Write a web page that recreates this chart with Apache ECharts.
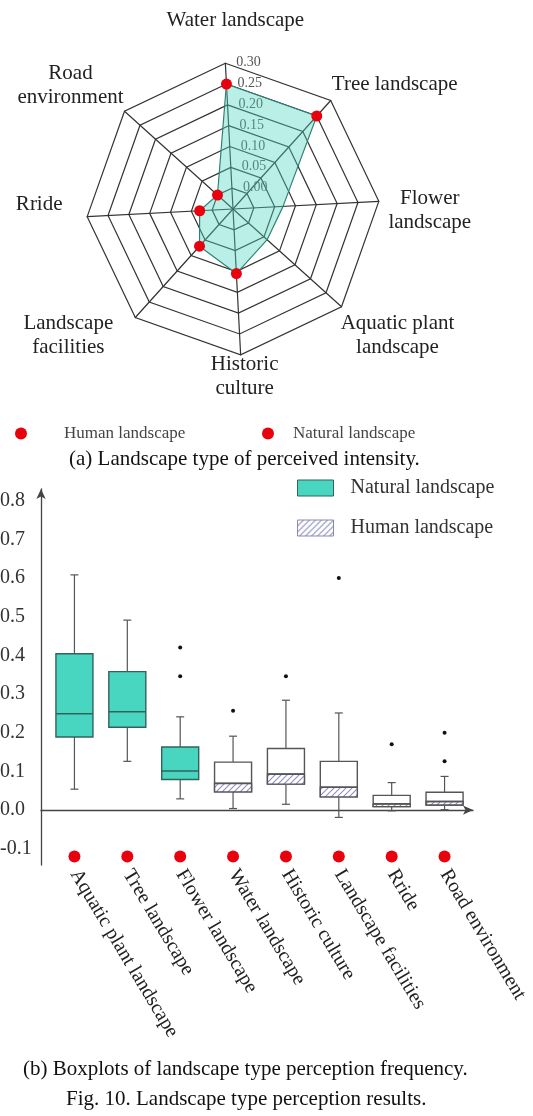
<!DOCTYPE html>
<html><head><meta charset="utf-8">
<script src="https://cdn.jsdelivr.net/npm/echarts@6/dist/echarts.min.js"></script>
<style>html,body{margin:0;padding:0;background:#fff}#c{width:533px;height:1116px}</style>
</head><body><div id="c"></div>
<script>
// ---------- (a) radar data ----------
const radarAxes = ['Water landscape','Road environment','Rride','Landscape facilities','Historic culture','Aquatic plant landscape','Flower landscape','Tree landscape'];
const radarAxisNames = ['Water landscape','Road\nenvironment','Rride','Landscape\nfacilities','Historic\nculture','Aquatic plant\nlandscape','Flower\nlandscape','Tree landscape'];
const radarValues = [0.25, 0.00, 0.03, 0.07, 0.105, 0.06, 0.07, 0.25];
const radarDotAxes = ['Water landscape','Road environment','Rride','Landscape facilities','Historic culture','Tree landscape'];
const radarDotValues = [0.25, 0.00, 0.03, 0.07, 0.105, 0.25];
const radarMin = -0.05, radarMax = 0.30;

// ---------- (b) boxplot data ----------
const boxCats = ['Aquatic plant landscape','Tree landscape','Flower landscape','Water landscape','Historic culture','Landscape facilities','Rride','Road environment'];
const boxGroup = ['Natural','Natural','Natural','Human','Human','Human','Human','Human'];
const boxMin    = [0.054, 0.126, 0.029, 0.004, 0.015, -0.019, -0.002, 0.001];
const boxQ1     = [0.189, 0.214, 0.079, 0.047, 0.067, 0.034, 0.009, 0.013];
const boxMedian = [0.249, 0.254, 0.101, 0.069, 0.093, 0.059, 0.016, 0.022];
const boxQ3     = [0.404, 0.358, 0.163, 0.124, 0.159, 0.126, 0.038, 0.046];
const boxMax    = [0.608, 0.491, 0.241, 0.191, 0.284, 0.251, 0.071, 0.087];
const outlierCats   = ['Flower landscape','Flower landscape','Water landscape','Historic culture','Landscape facilities','Rride','Road environment','Road environment'];
const outlierValues = [0.42, 0.346, 0.257, 0.346, 0.60, 0.17, 0.20, 0.126];
const markerValues  = [-0.12, -0.12, -0.12, -0.12, -0.12, -0.12, -0.12, -0.12];
const yTicks = [-0.1, 0.0, 0.1, 0.2, 0.3, 0.4, 0.5, 0.6, 0.7, 0.8];
const yMin = -0.142, yMax = 0.83;

// ---------- layout / style (not data) ----------
// pixel offset of each radar axis name from its axis end
const radarNameOffset = [[10,-43],[-54,-26],[-48,-12],[-67,18],[4,22],[56,29],[51,9],[64,-16]];
const FONT = 'Liberation Serif';
const TEAL = '#48d6c0';
const TEAL_BORDER = '#33625b';
const RED = '#e8000d';

function hatchPattern() {
  const c = document.createElement('canvas');
  c.width = 6; c.height = 6;
  const g = c.getContext('2d');
  g.fillStyle = '#fff'; g.fillRect(0, 0, 6, 6);
  g.strokeStyle = '#8e8ec2'; g.lineWidth = 1.1;
  g.beginPath();
  g.moveTo(0, 6); g.lineTo(6, 0);
  g.moveTo(-1, 1); g.lineTo(1, -1);
  g.moveTo(5, 7); g.lineTo(7, 5);
  g.stroke();
  return { image: c, repeat: 'repeat' };
}
const HATCH = hatchPattern();

// rich styles for radar axis names
const nameRich = {};
radarAxisNames.forEach((full, i) => {
  const lines = full.split('\n');
  const dx = radarNameOffset[i][0], dy = radarNameOffset[i][1];
  lines.forEach((l, j) => {
    const top = 1.5 + ((j === 0 && dy > 0) ? 2 * dy : 0);
    const bottom = 1.5 + ((j === lines.length - 1 && dy < 0) ? -2 * dy : 0);
    nameRich['n' + i + '_' + j] = {
      width: 160, align: 'center', fontSize: 21, fontFamily: FONT, color: '#222',
      padding: [top, dx < 0 ? -2 * dx : 0, bottom, dx > 0 ? 2 * dx : 0]
    };
  });
});

function boxData(group) {
  const out = [];
  boxCats.forEach((c, i) => {
    if (boxGroup[i] === group) out.push([c, boxMin[i], boxQ1[i], boxMedian[i], boxQ3[i], boxMax[i]]);
  });
  return out;
}

function makeRender(human) {
  return function (params, api) {
    const ci = api.value(0);
    const pMin = api.coord([ci, api.value(1)]);
    const pQ1 = api.coord([ci, api.value(2)]);
    const pMed = api.coord([ci, api.value(3)]);
    const pQ3 = api.coord([ci, api.value(4)]);
    const pMax = api.coord([ci, api.value(5)]);
    const w = api.size([1, 0])[0] * 0.7;
    const x = pMed[0];
    const cap = 4;
    const lineC = '#555';
    const border = human ? '#555' : TEAL_BORDER;
    const ch = [
      { type: 'line', shape: { x1: x, y1: pMax[1], x2: x, y2: pQ3[1] }, style: { stroke: lineC, lineWidth: 1.2 } },
      { type: 'line', shape: { x1: x - cap, y1: pMax[1], x2: x + cap, y2: pMax[1] }, style: { stroke: lineC, lineWidth: 1.2 } },
      { type: 'line', shape: { x1: x, y1: pQ1[1], x2: x, y2: pMin[1] }, style: { stroke: lineC, lineWidth: 1.2 } },
      { type: 'line', shape: { x1: x - cap, y1: pMin[1], x2: x + cap, y2: pMin[1] }, style: { stroke: lineC, lineWidth: 1.2 } },
      { type: 'rect', shape: { x: x - w / 2, y: pQ3[1], width: w, height: pQ1[1] - pQ3[1] },
        style: { fill: human ? '#fff' : TEAL, stroke: border, lineWidth: 1.4 } }
    ];
    if (human) {
      ch.push({ type: 'rect', shape: { x: x - w / 2, y: pMed[1], width: w, height: pQ1[1] - pMed[1] },
        style: { fill: HATCH, stroke: border, lineWidth: 1.4 } });
    }
    ch.push({ type: 'line', shape: { x1: x - w / 2, y1: pMed[1], x2: x + w / 2, y2: pMed[1] },
      style: { stroke: border, lineWidth: 1.6 } });
    return { type: 'group', children: ch };
  };
}

const chart = echarts.init(document.getElementById('c'), null, { renderer: 'canvas' });
chart.setOption({
  backgroundColor: '#fff',
  animation: false,
  textStyle: { fontFamily: FONT },
  title: [
    { text: '(a) Landscape type of perceived intensity.', left: 69, top: 449, padding: 0,
      textStyle: { fontSize: 21, fontWeight: 'normal', fontFamily: FONT, color: '#111' } },
    { text: '(b) Boxplots of landscape type perception frequency.', left: 23, top: 1059, padding: 0,
      textStyle: { fontSize: 21, fontWeight: 'normal', fontFamily: FONT, color: '#111' } },
    { text: 'Fig. 10. Landscape type perception results.', left: 66, top: 1089, padding: 0,
      textStyle: { fontSize: 21, fontWeight: 'normal', fontFamily: FONT, color: '#111' } }
  ],
  legend: [
    { data: [{ name: 'Human landscape', icon: 'circle', itemStyle: { color: RED, borderWidth: 0, opacity: 1 } }],
      left: 15, top: 425, padding: 0, itemWidth: 12, itemHeight: 12, selectedMode: false,
      textStyle: { fontSize: 17, color: '#444', fontFamily: FONT, padding: [0, 0, 0, 32] } },
    { data: [{ name: 'Natural landscape', icon: 'circle', itemStyle: { color: RED, borderWidth: 0, opacity: 1 } }],
      left: 262, top: 425, padding: 0, itemWidth: 12, itemHeight: 12, selectedMode: false,
      textStyle: { fontSize: 17, color: '#444', fontFamily: FONT, padding: [0, 0, 0, 14] } },
    { data: [
        { name: 'box:Natural landscape', icon: 'rect', itemStyle: { color: TEAL, borderColor: TEAL_BORDER, borderWidth: 1 } },
        { name: 'box:Human landscape', icon: 'rect', itemStyle: { color: HATCH, borderColor: '#8a8aa6', borderWidth: 1 } }
      ],
      orient: 'vertical', left: 297, top: 478, padding: 0, itemWidth: 36, itemHeight: 16, itemGap: 20,
      selectedMode: false,
      formatter: n => n.replace('box:', ''),
      textStyle: { fontSize: 20, color: '#333', fontFamily: FONT, lineHeight: 20, padding: [0, 0, 0, 12] } }
  ],
  radar: {
    center: [233, 209],
    radius: 146,
    startAngle: 93,
    splitNumber: 7,
    shape: 'polygon',
    nameGap: 0,
    axisName: { color: '#222', fontSize: 21, fontFamily: FONT,
      align: 'center', verticalAlign: 'middle',
      formatter: (n) => {
        const i = radarAxes.indexOf(n);
        return radarAxisNames[i].split('\n').map((l, j) => '{n' + i + '_' + j + '|' + l + '}').join('\n');
      },
      rich: nameRich },
    indicator: radarAxes.map((n, i) => i === 0
      ? { name: n, min: radarMin, max: radarMax, nameMoveOverlap: false,
          axisLabel: { show: true, color: '#555', fontSize: 14, fontFamily: FONT, margin: -11, align: 'left',
            formatter: v => (v < -0.001 ? '' : Math.abs(Number(v)).toFixed(2)) } }
      : { name: n, min: radarMin, max: radarMax, nameMoveOverlap: false }),
    axisLine: { lineStyle: { color: '#333', width: 1.2 } },
    splitLine: { lineStyle: { color: '#333', width: 1.2 } },
    splitArea: { show: false },
    axisLabel: { show: false }
  },
  polar: { center: [233, 209], radius: 146 },
  angleAxis: { type: 'category', data: radarAxes, startAngle: 93, clockwise: false, boundaryGap: false,
    axisLine: { show: false }, axisTick: { show: false }, axisLabel: { show: false }, splitLine: { show: false } },
  radiusAxis: { type: 'value', min: radarMin, max: radarMax,
    axisLine: { show: false }, axisTick: { show: false }, axisLabel: { show: false }, splitLine: { show: false } },
  grid: [
    { left: 48, right: 62, top: 489, bottom: 251, outerBoundsMode: 'none', containLabel: false },
    { left: 41, right: 60, top: 489, bottom: 251, outerBoundsMode: 'none', containLabel: false }
  ],
  xAxis: [
    { type: 'category', gridIndex: 0, data: boxCats,
      axisLine: { show: false }, axisTick: { show: false },
      axisLabel: { rotate: -59, fontSize: 20, color: '#222', fontFamily: FONT, margin: 6, interval: 0 } },
    { type: 'value', gridIndex: 1, min: 0, max: 1,
      axisLine: { show: true, symbol: ['none', 'arrow'], symbolSize: [7, 10], lineStyle: { color: '#444', width: 1.3 } },
      axisTick: { show: false }, axisLabel: { show: false }, splitLine: { show: false } }
  ],
  yAxis: [
    { type: 'value', gridIndex: 0, min: yMin, max: yMax, show: false, splitLine: { show: false } },
    { type: 'value', gridIndex: 1, min: yMin, max: yMax,
      axisLine: { show: true, symbol: ['none', 'arrow'], symbolSize: [7, 10], lineStyle: { color: '#444', width: 1.3 } },
      axisTick: { show: false }, splitLine: { show: false },
      axisLabel: { customValues: yTicks, fontSize: 20, color: '#333', fontFamily: FONT, margin: 41, align: 'left',
        formatter: v => Number(v).toFixed(1) } }
  ],
  series: [
    { type: 'radar', z: 2, symbol: 'none',
      data: [{ name: 'Natural landscape', value: radarValues,
        itemStyle: { color: RED },
        lineStyle: { color: '#2d6e64', width: 1.2 },
        areaStyle: { color: 'rgba(72,214,192,0.55)' } }] },
    { type: 'scatter', name: 'Human landscape', coordinateSystem: 'polar', z: 5,
      symbol: 'circle', symbolSize: 11, itemStyle: { color: RED, opacity: 1 },
      data: radarDotAxes.map((a, i) => [radarDotValues[i], a]) },
    { type: 'custom', name: 'box:Natural landscape', xAxisIndex: 0, yAxisIndex: 0, z: 3,
      itemStyle: { color: TEAL },
      renderItem: makeRender(false),
      encode: { x: 0, y: [1, 2, 3, 4, 5] },
      data: boxData('Natural') },
    { type: 'custom', name: 'box:Human landscape', xAxisIndex: 0, yAxisIndex: 0, z: 3,
      itemStyle: { color: '#9a9ac8' },
      renderItem: makeRender(true),
      encode: { x: 0, y: [1, 2, 3, 4, 5] },
      data: boxData('Human') },
    { type: 'scatter', name: 'outliers', xAxisIndex: 0, yAxisIndex: 0, z: 4,
      symbol: 'circle', symbolSize: 4, itemStyle: { color: '#111', opacity: 1 },
      data: outlierCats.map((c, i) => [c, outlierValues[i]]) },
    { type: 'scatter', name: 'markers', xAxisIndex: 0, yAxisIndex: 0, z: 4,
      symbol: 'circle', symbolSize: 12, itemStyle: { color: RED, opacity: 1 },
      data: boxCats.map((c, i) => [c, markerValues[i]]) }
  ]
});
</script>
</body></html>
